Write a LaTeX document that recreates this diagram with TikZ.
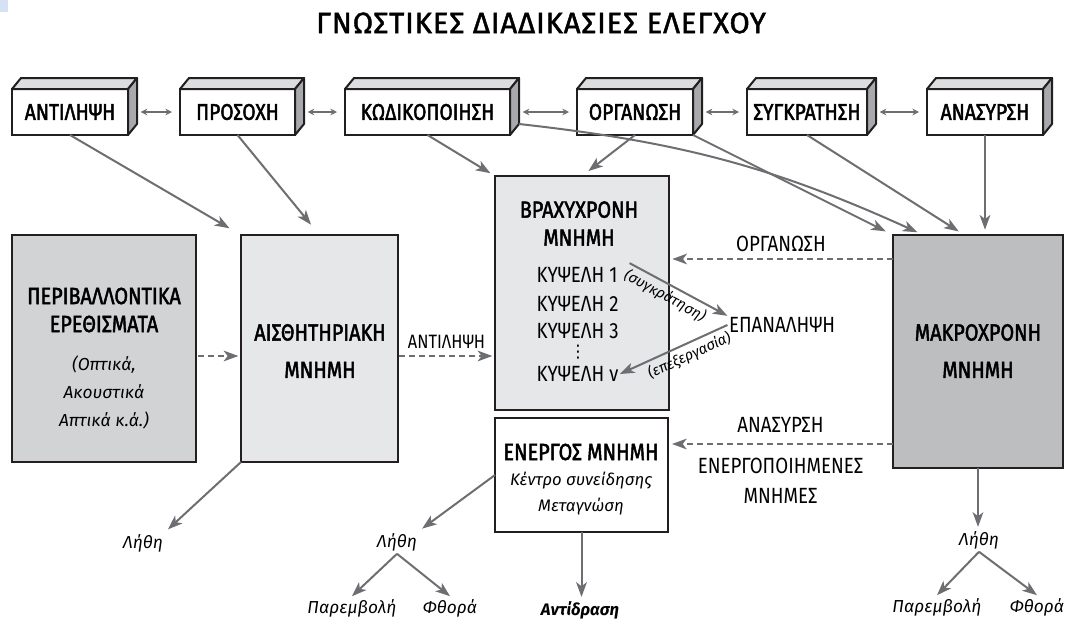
\documentclass[tikz,border=0pt]{standalone}
\usepackage{fontspec}
\setmainfont{Fira Sans}
\newfontfamily\capfont[FakeStretch=0.85,FakeBold=2]{Fira Sans}
\newfontfamily\titlefont[FakeBold=1.5,LetterSpace=3]{Fira Sans}
\newfontfamily\lblfont[FakeStretch=0.85]{Fira Sans}
\newfontfamily\symfont{DejaVu Sans}
\usetikzlibrary{arrows.meta,calc}
\definecolor{ink}{HTML}{231F20}
\definecolor{arrowgray}{HTML}{6D6E71}
\definecolor{envgray}{HTML}{D1D3D4}
\definecolor{memgray}{HTML}{E6E7E8}
\definecolor{ltmgray}{HTML}{BCBEC0}
\definecolor{cubetop}{HTML}{DCDDDE}
\definecolor{cubeside}{HTML}{A7A9AC}
\definecolor{cornerblue}{HTML}{D6E2F4}

\begin{document}
\begin{tikzpicture}[x=0.75pt, y=-0.75pt]
	\tikzstyle{cube} = [draw=ink, line width=1.5pt, fill=white, outer sep=0pt, inner sep=0pt, minimum height=46*0.75pt, font={\capfont\fontsize{17}{20}\selectfont}];
	\tikzstyle{face} = [draw=ink, line width=1.5pt, line join=round];
	\tikzstyle{store} = [draw=ink, line width=1.9pt, outer sep=0pt, inner sep=0pt];
	\tikzstyle{heading} = [font={\capfont\fontsize{17.5}{21}\selectfont}, align=center];
	\tikzstyle{lbl} = [font={\lblfont\fontsize{16.5}{22}\selectfont}, align=center, inner sep=1pt];
	\tikzstyle{hand} = [font={\itshape\fontsize{13}{21}\selectfont}, align=center, inner sep=2pt];
	\tikzstyle{note} = [font={\itshape\fontsize{11}{13}\selectfont}, inner sep=1.5pt];
	\tikzstyle{feed} = [-{Stealth[length=11pt, width=8pt, inset=3pt]}, draw=arrowgray, line width=1.5pt];
	\tikzstyle{link} = [feed, dash pattern=on 4.5pt off 3pt];
	\tikzstyle{twoway} = [{Stealth[length=5pt, width=5pt]}-{Stealth[length=5pt, width=5pt]}, draw=arrowgray, line width=1pt];

	\useasboundingbox (0,0) rectangle (1065,625);
	\fill[cornerblue] (0,0) rectangle (8,12);

	\node[font={\titlefont\fontsize{22}{26}\selectfont}] (title) at (541,23) {ΓΝΩΣΤΙΚΕΣ ΔΙΑΔΙΚΑΣΙΕΣ ΕΛΕΓΧΟΥ};

	\def \tops {antil/70/116/ΑΝΤΙΛΗΨΗ, prosoxi/237.5/115/ΠΡΟΣΟΧΗ, kodik/427.5/165/ΚΩΔΙΚΟΠΟΙΗΣΗ, organ/635/116/ΟΡΓΑΝΩΣΗ, synkr/807/120/ΣΥΓΚΡΑΤΗΣΗ, anas/985/116/ΑΝΑΣΥΡΣΗ}

	\foreach \nm/\cx/\bw/\txt in \tops {
		\node[cube, minimum width=\bw*0.75pt] (\nm) at (\cx,112) {\txt};
		\draw[face, fill=cubetop] (\nm.north west) -- ++(9,-11) -- ([shift={(9,-11)}]\nm.north east) -- (\nm.north east) -- cycle;
		\draw[face, fill=cubeside] (\nm.north east) -- ++(9,-11) -- ([shift={(9,-11)}]\nm.south east) -- (\nm.south east) -- cycle;
	}

	\foreach \a/\b in {antil/prosoxi, prosoxi/kodik, kodik/organ, organ/synkr, synkr/anas}
		\draw[twoway, shorten <=9.5pt, shorten >=6pt] (\a) -- (\b);

	\node[store, fill=envgray, minimum width=184*0.75pt, minimum height=227*0.75pt] (env) at (104,348.5) {};
	\node[store, fill=memgray, minimum width=157*0.75pt, minimum height=227*0.75pt] (sens) at (319.5,348.5) {};
	\node[store, fill=memgray, minimum width=174*0.75pt, minimum height=234*0.75pt] (stm) at (582,293) {};
	\node[store, fill=white, minimum width=173*0.75pt, minimum height=114*0.75pt] (wm) at (581.5,475) {};
	\node[store, fill=ltmgray, minimum width=170*0.75pt, minimum height=233*0.75pt] (ltm) at (978,351.5) {};

	\node[heading] (envcap) at (104,310) {ΠΕΡΙΒΑΛΛΟΝΤΙΚΑ\\ΕΡΕΘΙΣΜΑΤΑ};
	\node[hand] (envsub) at (104,392) {(Οπτικά,\\Ακουστικά\\Απτικά κ.ά.)};
	\node[heading] (senscap) at (320,351) {ΑΙΣΘΗΤΗΡΙΑΚΗ\\[7pt]ΜΝΗΜΗ};
	\node[heading] (stmcap) at (579,223.5) {ΒΡΑΧΥΧΡΟΝΗ\\ΜΝΗΜΗ};
	\node[heading] (ltmcap) at (978,351) {ΜΑΚΡΟΧΡΟΝΗ\\[7pt]ΜΝΗΜΗ};
	\node[heading] (wmcap) at (581,452) {ΕΝΕΡΓΟΣ ΜΝΗΜΗ};
	\node[hand, font={\itshape\fontsize{12.5}{20}\selectfont}] (wmsub) at (581,493.5) {Κέντρο συνείδησης\\Μεταγνώση};

	\node[lbl, anchor=west] (cell1) at (535,275) {ΚΥΨΕΛΗ 1};
	\node[lbl, anchor=west] (cell2) at (535,304) {ΚΥΨΕΛΗ 2};
	\node[lbl, anchor=west] (cell3) at (535,331) {ΚΥΨΕΛΗ 3};
	\node[inner sep=0pt, font={\symfont\fontsize{13}{14}\selectfont}] (celldots) at (578,352) {⋮};
	\node[lbl, anchor=west] (celln) at (535,374) {ΚΥΨΕΛΗ ν};
	\node[lbl] (rep) at (782,325) {ΕΠΑΝΑΛΗΨΗ};

	\draw[feed] ([xshift=8pt,yshift=2pt]cell1.north east) -- node[note, sloped, below=1pt, pos=0.42] (keep) {(συγκράτηση)} (rep.north west);
	\draw[feed] (rep.west) -- node[note, sloped, below=1pt, pos=0.4] (work) {(επεξεργασία)} (celln.east);

	\coordinate (percrow) at (0,356);
	\coordinate (orgrow) at (0,259);
	\coordinate (retrow) at (0,444);

	\draw[link, shorten <=1.5pt, shorten >=2pt] (env.east |- percrow) -- (sens.west |- percrow);
	\draw[link, shorten <=1pt, shorten >=2pt] (sens.east |- percrow) -- node[lbl, above=4pt, font={\lblfont\fontsize{14.5}{18}\selectfont}] (perclbl) {ΑΝΤΙΛΗΨΗ} (stm.west |- percrow);
	\draw[link, shorten >=2.5pt] (ltm.west |- orgrow) -- node[lbl, above=4pt] (orglbl) {ΟΡΓΑΝΩΣΗ} (stm.east |- orgrow);
	\draw[link, shorten >=3pt] (ltm.west |- retrow) -- node[lbl, above=7pt] (retlbl) {ΑΝΑΣΥΡΣΗ} node[lbl, below=9pt] (actlbl) {ΕΝΕΡΓΟΠΟΙΗΜΕΝΕΣ\\ΜΝΗΜΕΣ} (wm.east |- retrow);

	\draw[feed, shorten >=10pt] (antil.south) -- (sens.north west);
	\draw[feed, shorten >=10pt] (prosoxi.south) -- (sens.north);
	\draw[feed, shorten >=4pt] (kodik.south) -- (stm.north west);
	\draw[feed, shorten >=6pt] (organ.south) -- (stm.north);
	\draw[feed, shorten >=6pt] (organ.south east) -- (ltm.north west);
	\draw[feed, shorten >=5pt] ([shift={(9,-11)}]kodik.south east) to[bend left=9] ($(ltm.north west)!0.18!(ltm.north east)$);
	\draw[feed, shorten >=5pt] (synkr.south) -- ($(ltm.north west)!0.42!(ltm.north east)$);
	\draw[feed, shorten >=4pt] (anas.south) -- (anas.south |- ltm.north);

	\node[hand] (lethe1) at (143,543) {Λήθη};
	\node[hand] (lethe2) at (397,542) {Λήθη};
	\node[hand] (par2) at (352,608) {Παρεμβολή};
	\node[hand] (fth2) at (450,608) {Φθορά};
	\node[hand] (lethe3) at (979,540) {Λήθη};
	\node[hand] (par3) at (937,607) {Παρεμβολή};
	\node[hand] (fth3) at (1037,607) {Φθορά};
	\node[hand, font={\bfseries\itshape\fontsize{12.5}{16}\selectfont}] (react) at (580,610) {Αντίδραση};

	\draw[feed, shorten >=2pt] (sens.south west) -- (lethe1.north east);
	\draw[feed, shorten >=2pt] (wm.west) -- (lethe2.north east);
	\draw[feed] (lethe2.south) -- (par2.north);
	\draw[feed] (lethe2.south) -- (fth2.north);
	\draw[feed, shorten >=1pt] (ltm.south) -- (ltm.south |- lethe3.north);
	\draw[feed] (lethe3.south) -- (par3.north);
	\draw[feed] (lethe3.south) -- (fth3.north);
	\draw[feed, shorten >=1pt] (wm.south) -- (wm.south |- react.north);
\end{tikzpicture}
\end{document}
